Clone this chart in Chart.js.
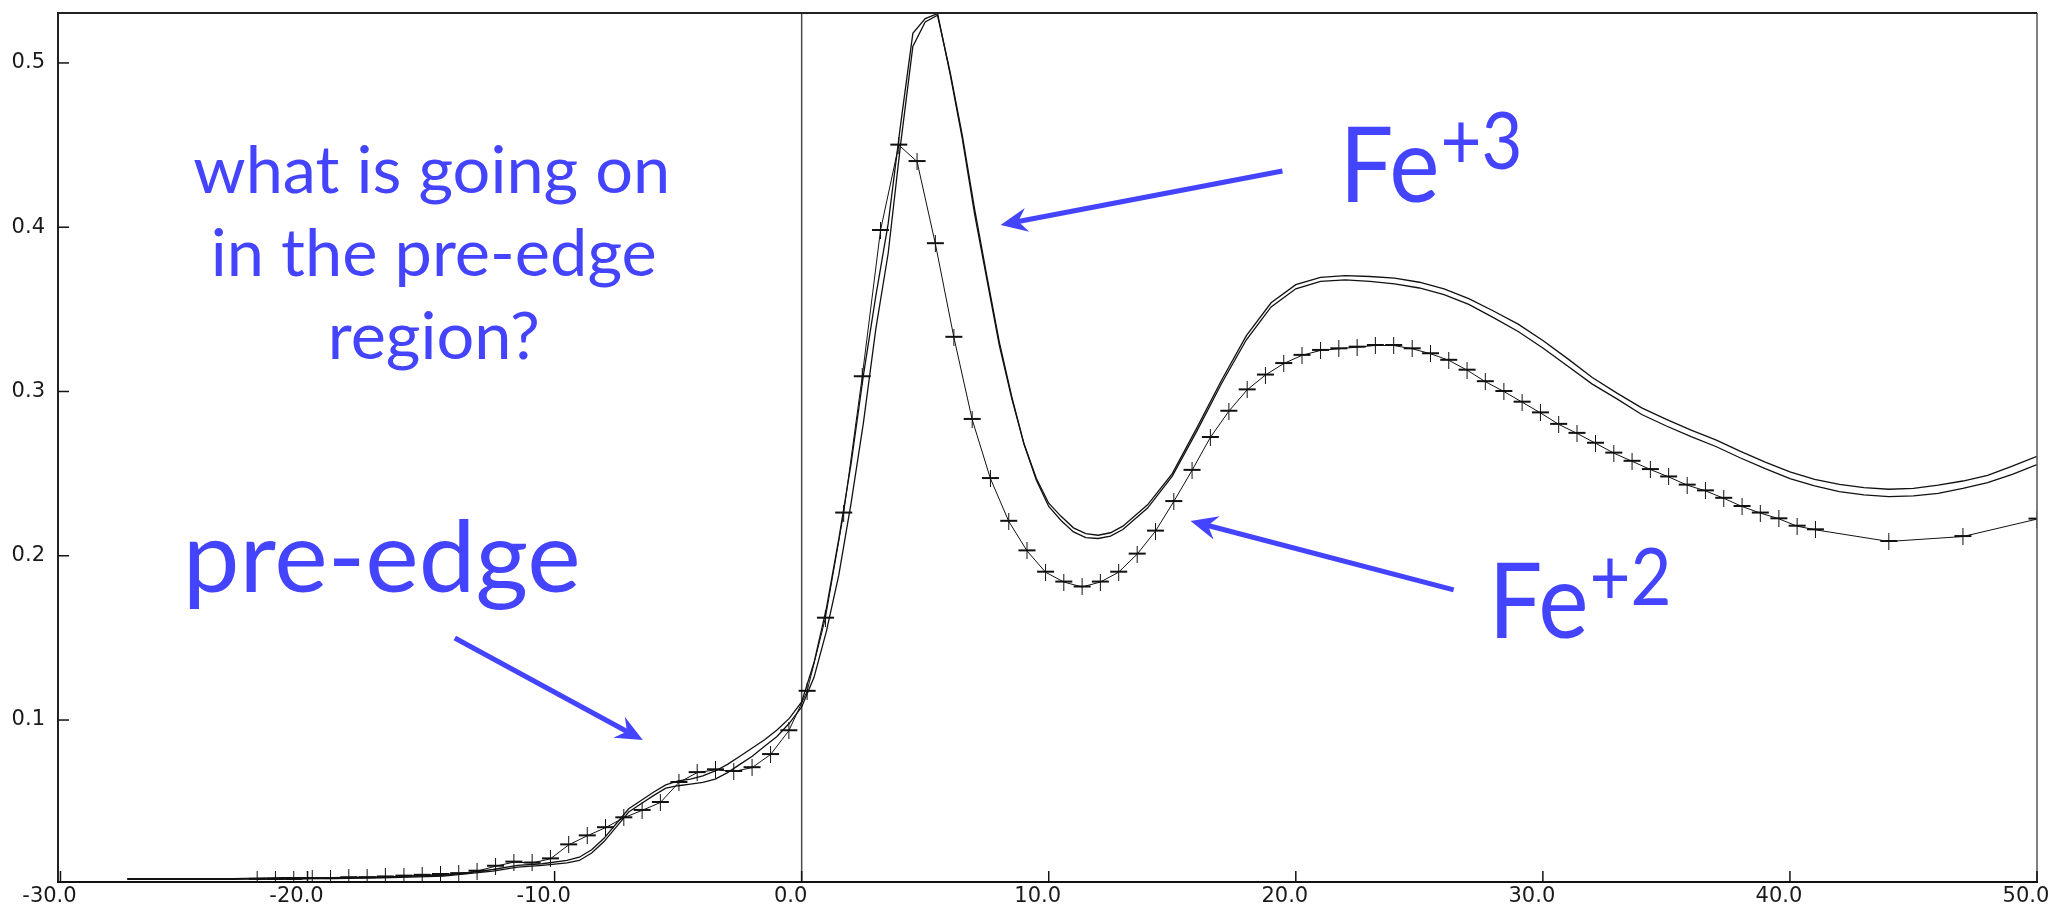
<!DOCTYPE html>
<html>
<head>
<meta charset="utf-8">
<title>Fe K-edge XANES</title>
<script src="https://cdn.jsdelivr.net/npm/chart.js@4.4.1/dist/chart.umd.min.js"></script>
<style>
  html, body { margin: 0; padding: 0; background: #fff; overflow: hidden; }
  canvas { display: block; }
</style>
</head>
<body>
<canvas id="spectrum" width="2054" height="906"></canvas>
<script>
// Fe+3 spectra (two scans, no markers)
const fe3X = [
  -27.3, -25, -23, -21, -19, -17, -15.5, -14.5, -13.5, -12.5,
  -11.5, -10.5, -9.5, -9, -8.5, -8, -7.5, -7, -6.5, -6,
  -5.5, -5, -4.5, -4, -3.5, -3, -2.5, -2, -1.5, -1,
  -0.5, 0, 0.5, 1, 1.5, 2, 2.5, 3, 3.5, 4,
  4.5, 5, 5.5, 6, 6.5, 7, 7.5, 8, 8.5, 9,
  9.5, 10, 10.5, 11, 11.5, 12, 12.5, 13, 14, 15,
  16, 17, 18, 19, 20, 21, 22, 23, 24, 25,
  26, 27, 28, 29, 30, 31, 32, 33, 34, 35,
  36, 37, 38, 39, 40, 41, 42, 43, 44, 45,
  46, 47, 48, 49, 50
];
const fe3aY = [
  0.0035, 0.0035, 0.0035, 0.004, 0.004, 0.0045, 0.005, 0.0055, 0.007, 0.009,
  0.0115, 0.0125, 0.0145, 0.0165, 0.021, 0.028, 0.037, 0.046, 0.051, 0.056,
  0.0605, 0.063, 0.064, 0.066, 0.069, 0.073, 0.078, 0.083, 0.088, 0.094,
  0.101, 0.111, 0.135, 0.168, 0.21, 0.256, 0.31, 0.358, 0.402, 0.462,
  0.518, 0.527, 0.530, 0.494, 0.454, 0.408, 0.368, 0.328, 0.296, 0.268,
  0.247, 0.232, 0.224, 0.217, 0.2135, 0.2125, 0.214, 0.218, 0.231, 0.250,
  0.278, 0.307, 0.334, 0.354, 0.365, 0.3695, 0.3705, 0.370, 0.369, 0.3665,
  0.3625, 0.3565, 0.349, 0.341, 0.331, 0.320, 0.3085, 0.299, 0.290, 0.283,
  0.2765, 0.2705, 0.2635, 0.257, 0.251, 0.2465, 0.2435, 0.2415, 0.2405, 0.241,
  0.243, 0.2455, 0.249, 0.2545, 0.2605
];
const fe3bY = [
  0.003, 0.003, 0.003, 0.0035, 0.0035, 0.004, 0.0045, 0.005, 0.0065, 0.008,
  0.0105, 0.0115, 0.013, 0.0145, 0.019, 0.026, 0.035, 0.044, 0.049, 0.054,
  0.0585, 0.060, 0.061, 0.062, 0.064, 0.068, 0.073, 0.078, 0.084, 0.090,
  0.098, 0.108, 0.126, 0.154, 0.188, 0.232, 0.281, 0.338, 0.384, 0.450,
  0.510, 0.525, 0.529, 0.495, 0.456, 0.411, 0.370, 0.330, 0.297, 0.268,
  0.246, 0.230, 0.2215, 0.2145, 0.211, 0.2105, 0.212, 0.216, 0.229, 0.2485,
  0.276, 0.305, 0.3315, 0.3515, 0.3625, 0.367, 0.368, 0.367, 0.3655, 0.363,
  0.359, 0.353, 0.345, 0.3365, 0.3265, 0.3155, 0.3045, 0.2955, 0.286, 0.279,
  0.2725, 0.2665, 0.2595, 0.253, 0.247, 0.2425, 0.239, 0.237, 0.236, 0.2365,
  0.238, 0.241, 0.2445, 0.2495, 0.2555
];

// Fe+2 spectrum (plotted with + markers)
const fe2X = [
  -22.04, -21.30, -20.56, -19.81, -19.07, -18.33, -17.59, -16.85, -16.10, -15.36,
  -14.62, -13.88, -13.14, -12.39, -11.65, -10.91, -10.17, -9.43, -8.68, -7.94,
  -7.20, -6.46, -5.72, -4.97, -4.23, -3.49, -2.75, -2.01, -1.26, -0.52,
  0.22, 0.96, 1.70, 2.45, 3.19, 3.93, 4.67, 5.41, 6.16, 6.90,
  7.64, 8.38, 9.12, 9.87, 10.61, 11.35, 12.09, 12.83, 13.58, 14.32,
  15.06, 15.80, 16.54, 17.29, 18.03, 18.77, 19.51, 20.25, 21.00, 21.74,
  22.48, 23.22, 23.96, 24.71, 25.45, 26.19, 26.93, 27.67, 28.42, 29.16,
  29.90, 30.64, 31.38, 32.13, 32.87, 33.61, 34.35, 35.09, 35.84, 36.58,
  37.32, 38.06, 38.80, 39.55, 40.29, 41.03, 44.0, 47.0, 50.0
];
const fe2Y = [
  0.003, 0.003, 0.003, 0.0035, 0.0035, 0.004, 0.004, 0.0045, 0.005, 0.0055,
  0.006, 0.0065, 0.008, 0.011, 0.0135, 0.013, 0.0155, 0.024, 0.0295, 0.0345,
  0.0405, 0.045, 0.0498, 0.062, 0.068, 0.0697, 0.0687, 0.071, 0.079, 0.0935,
  0.1175, 0.162, 0.226, 0.309, 0.398, 0.450, 0.440, 0.390, 0.333, 0.283,
  0.247, 0.221, 0.203, 0.190, 0.184, 0.181, 0.184, 0.190, 0.201, 0.215,
  0.233, 0.252, 0.272, 0.288, 0.301, 0.310, 0.317, 0.322, 0.325, 0.326,
  0.327, 0.328, 0.328, 0.326, 0.323, 0.319, 0.313, 0.306, 0.300, 0.2935,
  0.287, 0.280, 0.2745, 0.2685, 0.2625, 0.2575, 0.2525, 0.248, 0.243, 0.2395,
  0.235, 0.230, 0.226, 0.2225, 0.218, 0.2158, 0.2087, 0.2117, 0.2223
];

const xTicks = [-30, -20, -10, 0, 10, 20, 30, 40, 50];
const xTickLabels = ["-30.0", "-20.0", "-10.0", "0.0", "10.0", "20.0", "30.0", "40.0", "50.0"];
const yTicks = [0.1, 0.2, 0.3, 0.4, 0.5];
const yTickLabels = ["0.1", "0.2", "0.3", "0.4", "0.5"];

// Blue slide annotations, placed in data coordinates
const blue = "#4444ff";
const notes = [
  { text: "what is going on", x: -14.97, y: 0.4209, size: 66, align: "center", width: 477 },
  { text: "in the pre-edge", x: -14.89, y: 0.3703, size: 66, align: "center", width: 446 },
  { text: "region?", x: -14.89, y: 0.3198, size: 66, align: "center", width: 212 },
  { text: "pre-edge", x: -25.05, y: 0.1779, size: 99, align: "left", width: 398 }
];
const ionLabels = [
  { base: "Fe", sup: "+3", x: 21.77, y: 0.4154 },
  { base: "Fe", sup: "+2", x: 27.80, y: 0.1499 }
];
const arrows = [
  { x1: 19.46, y1: 0.4342, x2: 8.05, y2: 0.4014 },
  { x1: 26.39, y1: 0.1792, x2: 15.74, y2: 0.2212 },
  { x1: -14.04, y1: 0.1499, x2: -6.43, y2: 0.0878 }
];

function toPoints(xs, ys) {
  return xs.map((x, i) => ({ x: x, y: ys[i] }));
}

// "+" marker with a heavier horizontal bar, like the old plotting program
function makeCross() {
  const c = document.createElement("canvas");
  c.width = 19;
  c.height = 17;
  const g = c.getContext("2d");
  g.fillStyle = "#111";
  g.fillRect(9, 0, 1, 17);
  g.fillRect(1, 7, 17, 2);
  return c;
}

function line(ctx, x1, y1, x2, y2) {
  ctx.beginPath();
  ctx.moveTo(x1, y1);
  ctx.lineTo(x2, y2);
  ctx.stroke();
}

const framePlugin = {
  id: "frame",
  beforeDatasetsDraw(chart) {
    const { ctx, chartArea: a, scales } = chart;
    const x0 = scales.x.getPixelForValue(0);
    ctx.save();
    ctx.strokeStyle = "#4a4a4a";
    ctx.lineWidth = 1.5;
    line(ctx, x0, a.top, x0, a.bottom);
    ctx.restore();
  },
  afterDatasetsDraw(chart) {
    const { ctx, chartArea: a, scales } = chart;
    ctx.save();
    ctx.strokeStyle = "#555";
    ctx.lineWidth = 1.5;
    line(ctx, a.right, a.top, a.right, a.bottom);
    ctx.strokeStyle = "#222";
    ctx.lineWidth = 2;
    line(ctx, a.left - 1, a.top, a.right, a.top);
    line(ctx, a.left, a.top, a.left, a.bottom + 1);
    ctx.strokeStyle = "#111";
    line(ctx, a.left - 1, a.bottom, a.right + 1, a.bottom);

    // inward tick marks
    ctx.lineWidth = 1.5;
    scales.x.ticks.forEach(t => {
      const px = scales.x.getPixelForValue(t.value);
      line(ctx, px, a.bottom, px, a.bottom - 11);
    });
    scales.y.ticks.forEach(t => {
      const py = scales.y.getPixelForValue(t.value);
      line(ctx, a.left, py, a.left + 11, py);
    });
    ctx.restore();
  }
};

function writeText(ctx, text, px, py, size, align, width) {
  ctx.font = size + "px Lato";
  const w = ctx.measureText(text).width;
  const k = width ? width / w : 1;
  ctx.save();
  ctx.translate(px, py);
  ctx.scale(k, 1);
  ctx.textAlign = align;
  ctx.textBaseline = "alphabetic";
  ctx.fillText(text, 0, 0);
  ctx.restore();
  return w * k;
}

function drawArrow(ctx, x1, y1, x2, y2) {
  const ang = Math.atan2(y2 - y1, x2 - x1);
  const dx = Math.cos(ang), dy = Math.sin(ang);
  const headLen = 27, headHalf = 12, notch = 9;
  ctx.lineWidth = 5;
  ctx.lineCap = "butt";
  line(ctx, x1, y1, x2 - (headLen - notch) * dx, y2 - (headLen - notch) * dy);
  ctx.beginPath();
  ctx.moveTo(x2, y2);
  ctx.lineTo(x2 - headLen * dx - headHalf * dy, y2 - headLen * dy + headHalf * dx);
  ctx.lineTo(x2 - (headLen - notch) * dx, y2 - (headLen - notch) * dy);
  ctx.lineTo(x2 - headLen * dx + headHalf * dy, y2 - headLen * dy - headHalf * dx);
  ctx.closePath();
  ctx.fill();
}

const notesPlugin = {
  id: "notes",
  afterDraw(chart) {
    const { ctx, scales } = chart;
    const sx = v => scales.x.getPixelForValue(v);
    const sy = v => scales.y.getPixelForValue(v);
    ctx.save();
    ctx.fillStyle = blue;
    ctx.strokeStyle = blue;

    notes.forEach(n => writeText(ctx, n.text, sx(n.x), sy(n.y), n.size, n.align, n.width));

    ionLabels.forEach(l => {
      const left = sx(l.x);
      const base = sy(l.y);
      const w = writeText(ctx, l.base, left, base, 104, "left", 100);
      writeText(ctx, l.sup, left + w + 1, base - 33, 80, "left", 82);
    });

    arrows.forEach(a => drawArrow(ctx, sx(a.x1), sy(a.y1), sx(a.x2), sy(a.y2)));
    ctx.restore();
  }
};

const tickFont = { family: "'DejaVu Sans', sans-serif", size: 21 };

const ctx = document.getElementById("spectrum").getContext("2d");
new Chart(ctx, {
  type: "line",
  data: {
    datasets: [
      {
        label: "Fe+3 a",
        data: toPoints(fe3X, fe3aY),
        borderColor: "#111",
        borderWidth: 1.3,
        pointRadius: 0,
        tension: 0
      },
      {
        label: "Fe+3 b",
        data: toPoints(fe3X, fe3bY),
        borderColor: "#111",
        borderWidth: 1.3,
        pointRadius: 0,
        tension: 0
      },
      {
        label: "Fe+2",
        data: toPoints(fe2X, fe2Y),
        borderColor: "#111",
        borderWidth: 1,
        pointStyle: makeCross(),
        pointRadius: 9,
        tension: 0
      }
    ]
  },
  options: {
    responsive: false,
    animation: false,
    devicePixelRatio: 1,
    layout: { padding: { top: 13, right: 17, bottom: 0, left: 0 } },
    plugins: {
      legend: { display: false },
      tooltip: { enabled: false }
    },
    scales: {
      x: {
        type: "linear",
        min: -30.1,
        max: 50,
        grid: { display: false, drawTicks: false },
        border: { display: false },
        afterBuildTicks: s => { s.ticks = xTicks.map(v => ({ value: v })); },
        afterFit: s => { s.height = 24; s.paddingLeft = 0; s.paddingRight = 0; },
        ticks: {
          callback: v => xTickLabels[xTicks.indexOf(v)],
          font: tickFont,
          color: "#1a1a1a",
          padding: 2,
          labelOffset: -11,
          maxRotation: 0,
          autoSkip: false
        }
      },
      y: {
        type: "linear",
        min: 0.0014,
        max: 0.5304,
        grid: { display: false, drawTicks: false },
        border: { display: false },
        afterBuildTicks: s => { s.ticks = yTicks.map(v => ({ value: v })); },
        afterFit: s => { s.width = 58; s.paddingTop = 0; s.paddingBottom = 0; },
        ticks: {
          callback: v => yTickLabels[yTicks.indexOf(v)],
          font: tickFont,
          color: "#1a1a1a",
          padding: 13
        }
      }
    }
  },
  plugins: [framePlugin, notesPlugin]
});
</script>
</body>
</html>
